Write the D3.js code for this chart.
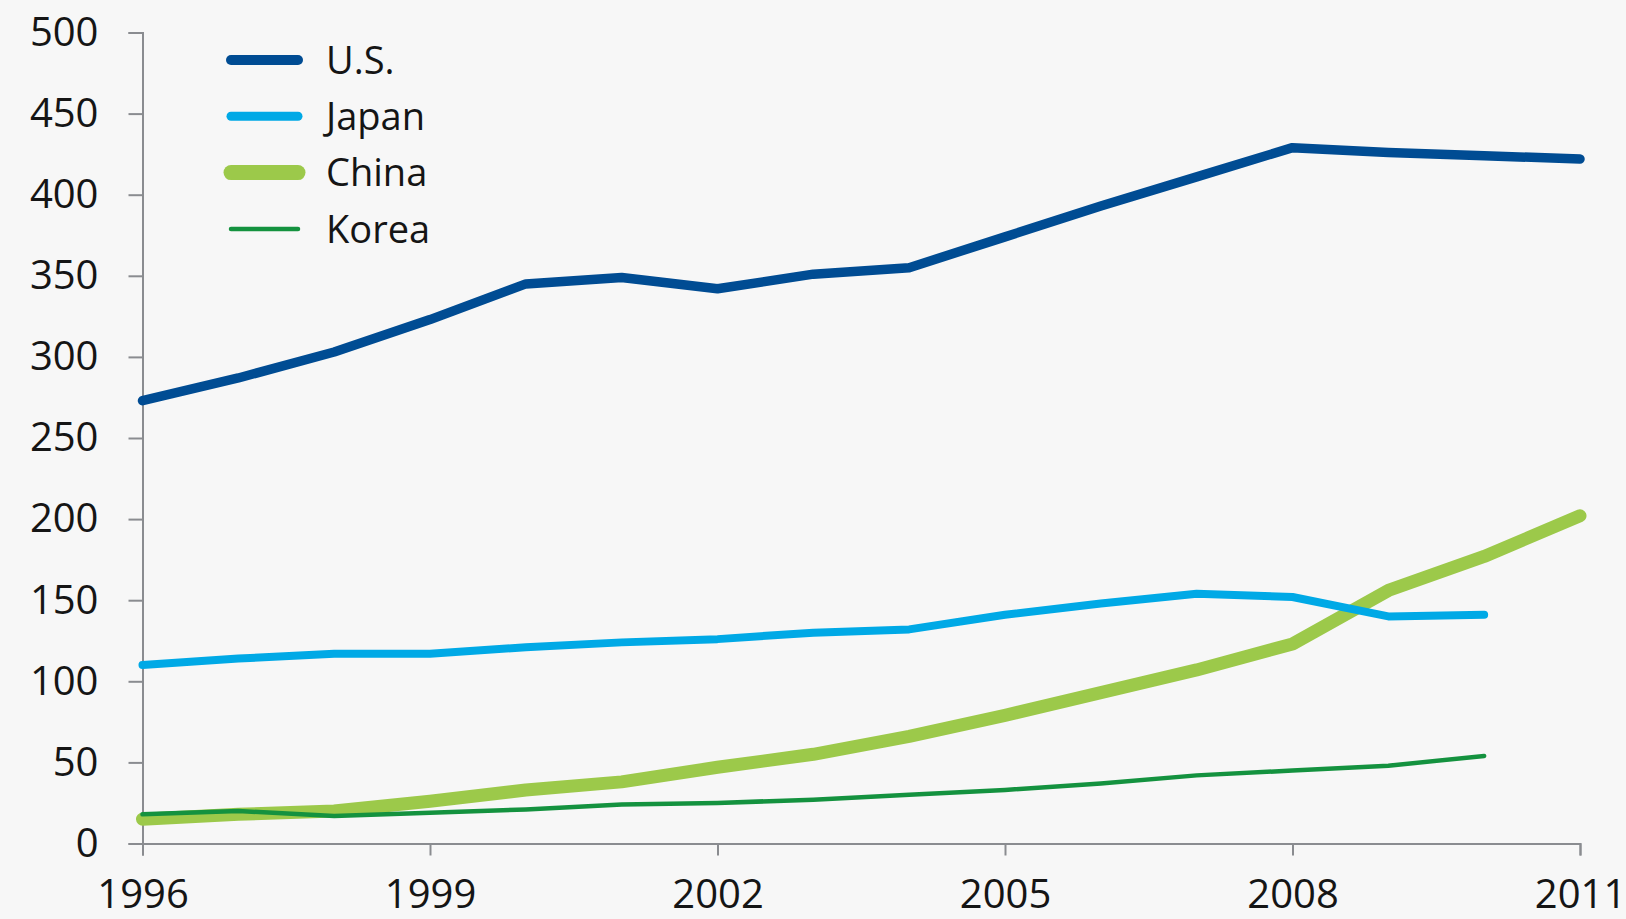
<!DOCTYPE html>
<html>
<head>
<meta charset="utf-8">
<script src="https://cdn.jsdelivr.net/npm/d3@7"></script>
<style>
  html, body { margin: 0; padding: 0; background: #f7f7f7; }
  svg { display: block; font-family: "Open Sans", "Noto Sans", sans-serif; }
  .axis path, .axis line { stroke: #8a8c90; stroke-width: 2px; }
  .axis text { fill: #151515; font-size: 40px; font-family: "Open Sans", "Noto Sans", sans-serif; }
</style>
</head>
<body>
<div id="chart"></div>
<script>
// years along the x axis
var years = d3.range(1996, 2012);
var xTicks = [1996, 1999, 2002, 2005, 2008, 2011];
var yTicks = [0, 50, 100, 150, 200, 250, 300, 350, 400, 450, 500];

// values
var usValues    = [273, 287, 303, 323, 345, 349, 342, 351, 355, 374, 393, 411, 429, 426, 424, 422];
var japanValues = [110, 114, 117, 117, 121, 124, 126, 130, 132, 141, 148, 154, 152, 140, 141];
var chinaValues = [15, 18, 20, 26, 33, 38, 47, 55, 66, 79, 93, 107, 123, 156, 177, 202];
var koreaValues = [18, 20, 17, 19, 21, 24, 25, 27, 30, 33, 37, 42, 45, 48, 54];

var seriesNames  = ["U.S.", "Japan", "China", "Korea"];
var seriesValues = [usValues, japanValues, chinaValues, koreaValues];
var seriesColors = ["#004c93", "#00a9e6", "#9cc94a", "#14923f"];
var seriesWidths = [9.5, 8, 13, 4.5];
var legendWidths = [10, 9, 15, 4.5];
// drawing order, back to front
var drawOrder = [2, 3, 1, 0];

var W = 1626, H = 919;
var margin = {top: 32.5, right: 46, bottom: 75.5, left: 142.5};
var width = W - margin.left - margin.right,
    height = H - margin.top - margin.bottom;

var svg = d3.select("#chart").append("svg")
  .attr("width", W)
  .attr("height", H);

svg.append("rect").attr("width", W).attr("height", H).attr("fill", "#f7f7f7");

var g = svg.append("g")
  .attr("transform", "translate(" + margin.left + "," + margin.top + ")");

var x = d3.scaleLinear().domain([1996, 2011]).range([0, width]);
var y = d3.scaleLinear().domain([0, 500]).range([height, 0]);

// Y axis
g.append("g")
  .attr("class", "axis")
  .call(d3.axisLeft(y).tickValues(yTicks).tickSize(14).tickSizeOuter(14).tickPadding(30))
  .selectAll("text")
  .attr("dy", "0.32em");

// X axis
g.append("g")
  .attr("class", "axis")
  .attr("transform", "translate(0," + height + ")")
  .call(d3.axisBottom(x).tickValues(xTicks).tickFormat(d3.format("d")).tickSize(12).tickSizeOuter(12).tickPadding(24));

// lines
var line = d3.line()
  .x(function(d, i) { return x(years[i]); })
  .y(function(d) { return y(d); });

drawOrder.forEach(function(k) {
  g.append("path")
    .datum(seriesValues[k])
    .attr("fill", "none")
    .attr("stroke", seriesColors[k])
    .attr("stroke-width", seriesWidths[k])
    .attr("stroke-linecap", "round")
    .attr("stroke-linejoin", "round")
    .attr("d", line);
});

// legend
var legend = svg.append("g").attr("transform", "translate(231,60)");
seriesNames.forEach(function(name, i) {
  var row = legend.append("g").attr("transform", "translate(0," + (i * 56.3) + ")");
  row.append("line")
    .attr("x1", 0).attr("x2", 67)
    .attr("y1", 0).attr("y2", 0)
    .attr("stroke", seriesColors[i])
    .attr("stroke-width", legendWidths[i])
    .attr("stroke-linecap", "round");
  row.append("text")
    .attr("x", 95)
    .attr("y", 0)
    .attr("dy", "0.36em")
    .attr("font-size", 38)
    .attr("fill", "#151515")
    .text(name);
});
</script>
</body>
</html>
